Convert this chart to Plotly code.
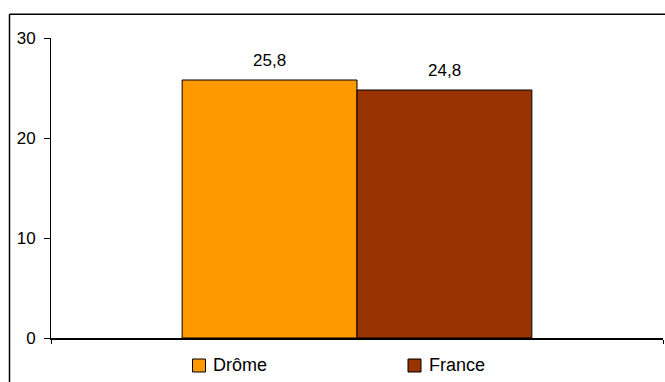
import plotly.graph_objects as go

series = ["Drôme", "France"]
values = [25.8, 24.8]
labels = ["25,8", "24,8"]
colors = ["#FF9900", "#993300"]
y_ticks = [0, 10, 20, 30]

FONT = "Liberation Sans, Arial, sans-serif"

# plot area in window pixels (for converting legend/border positions to paper coords)
PL, PR, PT, PB = 51, 663, 38, 338
def px(xp):
    return (xp - PL) / (PR - PL)
def py(yp):
    return (PB - yp) / (PB - PT)

fig = go.Figure()
for i, (name, v, c) in enumerate(zip(series, values, colors)):
    fig.add_trace(go.Bar(
        x=[i], y=[v], name=name, width=1,
        marker=dict(color=c, line=dict(color="black", width=1)),
        hoverinfo="skip", showlegend=False,
    ))
    fig.add_annotation(x=i, y=v, text=labels[i], showarrow=False,
                       yanchor="middle", yshift=20,
                       font=dict(family=FONT, size=17, color="black"))

# custom legend (square + label under the plot)
legend_sq_left = [192.5, 408]
legend_txt_left = [210.5, 426.5]
for name, c, sx, tx in zip(series, colors, legend_sq_left, legend_txt_left):
    fig.add_shape(type="rect", xref="paper", yref="paper",
                  x0=px(sx), x1=px(sx + 13), y0=py(372), y1=py(359),
                  fillcolor=c, line=dict(color="black", width=1))
    fig.add_annotation(xref="paper", yref="paper", x=px(tx), y=py(365.5),
                       xanchor="left", yanchor="middle", text=name,
                       showarrow=False,
                       font=dict(family=FONT, size=18, color="black"))

# outer chart border (top + left visible)
fig.add_shape(type="line", xref="paper", yref="paper",
              x0=px(9.5), x1=px(700), y0=py(14.3), y1=py(14.3),
              line=dict(color="black", width=1.5))
fig.add_shape(type="line", xref="paper", yref="paper",
              x0=px(9.5), x1=px(9.5), y0=py(14.3), y1=py(420),
              line=dict(color="black", width=1.5))

fig.update_layout(
    width=665, height=382,
    margin=dict(l=PL, r=665 - PR, t=PT, b=382 - PB, autoexpand=False),
    paper_bgcolor="white", plot_bgcolor="white",
    barmode="overlay",
    font=dict(family=FONT, size=17, color="black"),
    showlegend=False,
    xaxis=dict(range=[-1.25, 2.25], tickvals=[-1.25, 2.25], ticktext=["", ""],
               ticks="outside", ticklen=4, tickcolor="black",
               showline=True, linecolor="black", linewidth=1.5,
               showgrid=False, zeroline=False, fixedrange=True, automargin=False),
    yaxis=dict(range=[0, 30], tickvals=y_ticks, ticks="outside", ticklen=6,
               tickcolor="black", showline=True, linecolor="black", linewidth=1,
               showgrid=False, zeroline=False, ticklabelstandoff=5, automargin=False,
               fixedrange=True,
               tickfont=dict(family=FONT, size=17, color="black")),
)

fig.write_html("out.html", config={"displayModeBar": False, "staticPlot": True},
               post_script="document.body.style.margin='0';document.body.style.overflow='hidden';")
